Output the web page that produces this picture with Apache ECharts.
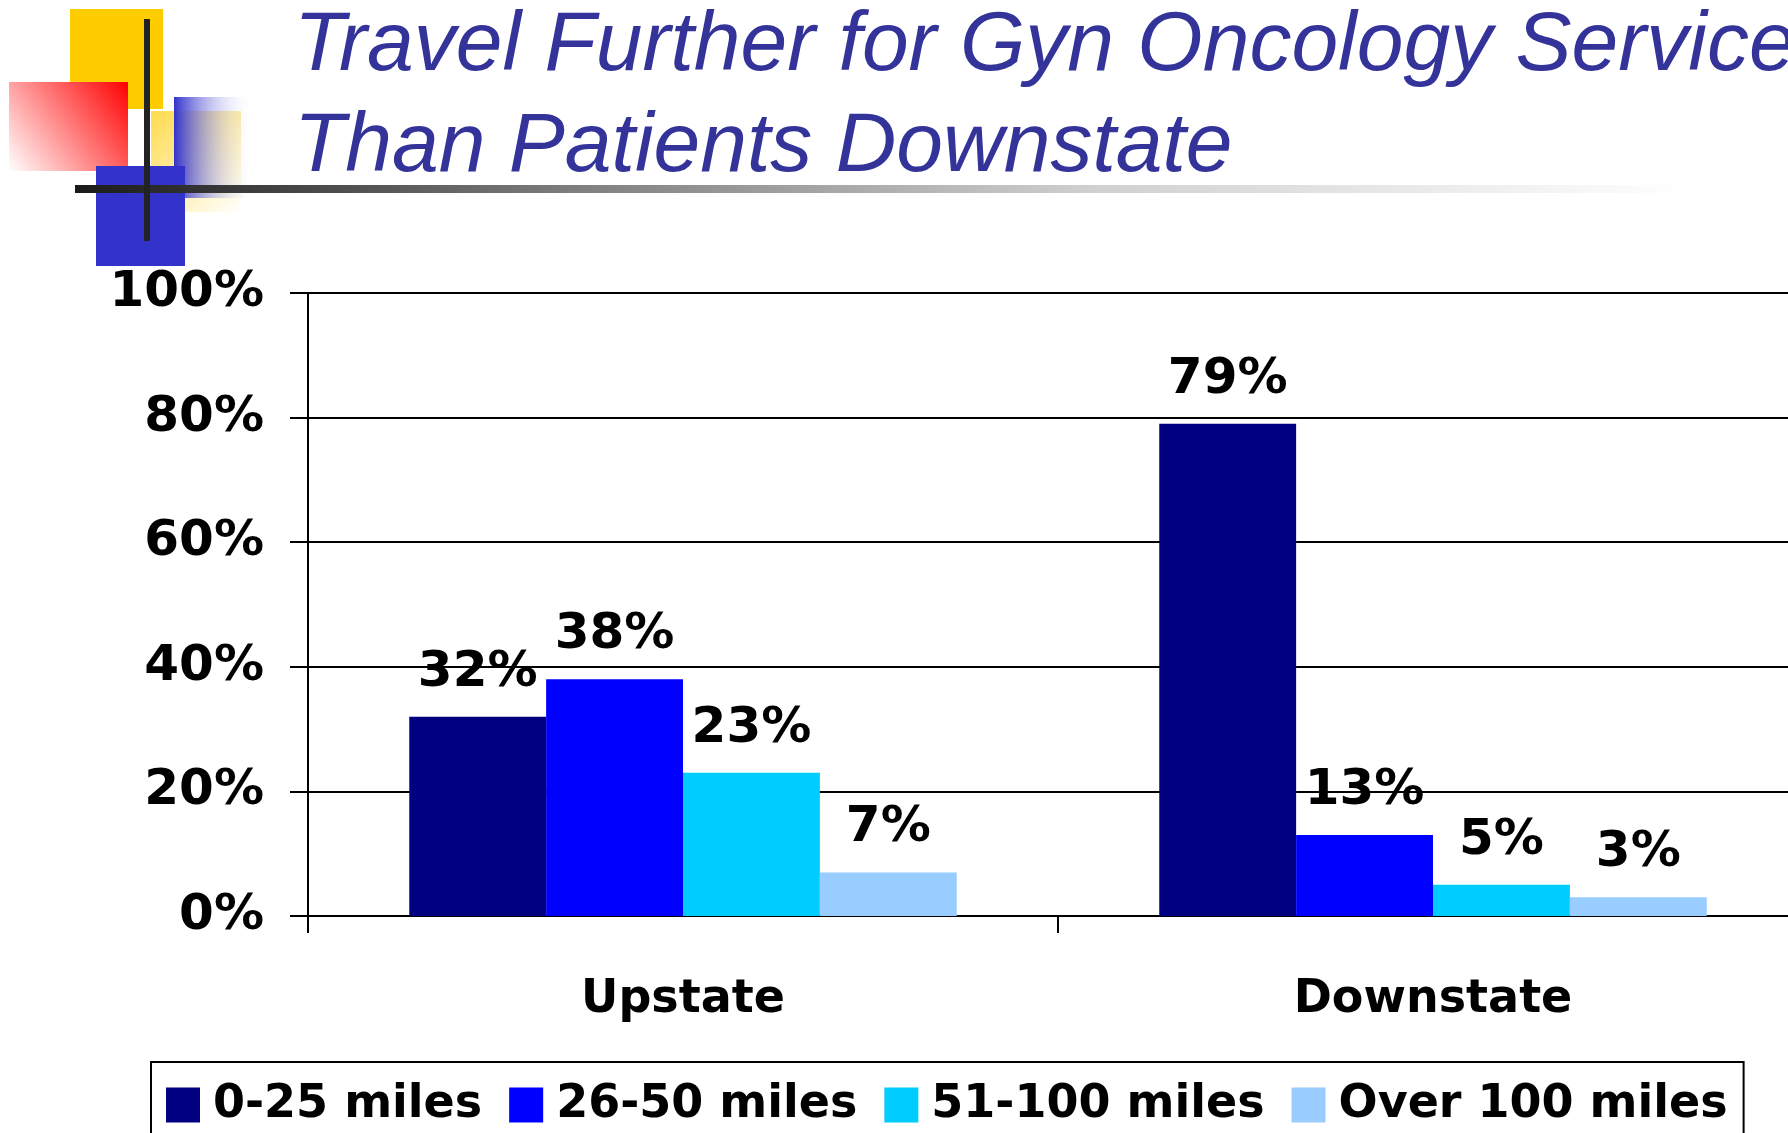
<!DOCTYPE html>
<html>
<head>
<meta charset="utf-8">
<script src="https://cdn.jsdelivr.net/npm/echarts@6/dist/echarts.min.js"></script>
<style>
html,body{margin:0;padding:0;background:#fff;overflow:hidden;width:1788px;height:1133px;}
#chart{width:1830px;height:1133px;}
</style>
</head>
<body>
<div id="chart"></div>
<script>
const titleLine1 = 'Travel Further for Gyn Oncology Services';
const titleLine2 = 'Than Patients Downstate';
const categories = ['Upstate', 'Downstate'];
const seriesNames = ['0-25 miles', '26-50 miles', '51-100 miles', 'Over 100 miles'];
const miles0to25 = [32, 79];
const miles26to50 = [38, 13];
const miles51to100 = [23, 5];
const milesOver100 = [7, 3];
const yTicks = [0, 20, 40, 60, 80, 100];
const colors = ['#000080', '#0000FF', '#00CCFF', '#99CCFF'];

const seriesData = [miles0to25, miles26to50, miles51to100, milesOver100];
const labelFont = 'DejaVu Sans';

const chart = echarts.init(document.getElementById('chart'), null, {renderer: 'canvas'});

const option = {
  animation: false,
  backgroundColor: '#ffffff',
  title: [
    {text: titleLine1, left: 289, top: 0,
     textStyle: {fontFamily: 'Liberation Sans', fontStyle: 'italic', fontWeight: 'normal', fontSize: 84, color: '#333399'}},
    {text: titleLine2, left: 289, top: 101,
     textStyle: {fontFamily: 'Liberation Sans', fontStyle: 'italic', fontWeight: 'normal', fontSize: 84, color: '#333399'}}
  ],
  graphic: [
    {type: 'rect', z: 1, shape: {x: 70, y: 9, width: 93, height: 100}, style: {fill: '#FFCC00'}},
    {type: 'rect', z: 2, shape: {x: 151, y: 111, width: 90, height: 101},
     style: {fill: new echarts.graphic.LinearGradient(0, 0, 1, 1, [{offset: 0, color: 'rgba(255,204,0,0.7)'}, {offset: 1, color: 'rgba(255,204,0,0)'}])}},
    {type: 'rect', z: 3, shape: {x: 9, y: 82, width: 119, height: 89},
     style: {fill: new echarts.graphic.LinearGradient(1, 0, 0, 1, [{offset: 0, color: 'rgba(255,0,0,1)'}, {offset: 1, color: 'rgba(255,255,255,1)'}])}},
    {type: 'rect', z: 4, shape: {x: 174, y: 97, width: 80, height: 101},
     style: {fill: new echarts.graphic.LinearGradient(0, 0, 1, 0, [{offset: 0, color: 'rgba(51,51,204,1)'}, {offset: 1, color: 'rgba(255,255,255,0)'}])}},
    {type: 'rect', z: 5, shape: {x: 96, y: 166, width: 89, height: 100}, style: {fill: '#3333CC'}},
    {type: 'rect', z: 6, shape: {x: 75, y: 185, width: 1700, height: 8},
     style: {fill: new echarts.graphic.LinearGradient(0, 0, 1, 0, [{offset: 0, color: '#1a1a1a'}, {offset: 0.3, color: '#808080'}, {offset: 0.6, color: '#d0d0d0'}, {offset: 0.95, color: '#ffffff'}])}},
    {type: 'rect', z: 7, shape: {x: 144, y: 19, width: 6, height: 222}, style: {fill: '#222222'}}
  ],
  legend: {
    data: seriesNames,
    left: 151, top: 1062,
    orient: 'horizontal',
    borderColor: '#000', borderWidth: 2,
    padding: [20, 16, 40, 15],
    itemWidth: 34, itemHeight: 35, itemGap: 27,
    icon: 'rect',
    textStyle: {fontFamily: labelFont, fontWeight: 'bold', fontSize: 46, color: '#000', padding: [0, 0, 0, 8]}
  },
  grid: {left: 308, top: 293, width: 1500, height: 623, containLabel: false},
  xAxis: {
    type: 'category',
    data: categories,
    axisLine: {show: true, lineStyle: {color: '#000', width: 2}},
    axisTick: {show: true, length: 17, lineStyle: {color: '#000', width: 2}},
    axisLabel: {fontFamily: labelFont, fontWeight: 'bold', fontSize: 46, color: '#000', margin: 61}
  },
  yAxis: {
    type: 'value',
    min: yTicks[0], max: yTicks[yTicks.length - 1], interval: 20,
    axisLine: {show: true, lineStyle: {color: '#000', width: 2}},
    axisTick: {show: true, length: 18, lineStyle: {color: '#000', width: 2}},
    splitLine: {show: true, lineStyle: {color: '#000', width: 2}},
    axisLabel: {fontFamily: labelFont, fontWeight: 'bold', fontSize: 50, color: '#000', margin: 44, formatter: '{value}%'}
  },
  series: seriesNames.map((name, i) => ({
    name: name,
    type: 'bar',
    data: seriesData[i],
    barGap: '0%',
    barCategoryGap: '27%',
    itemStyle: {color: colors[i]},
    label: {show: true, position: 'top', distance: 19, formatter: '{c}%',
            fontFamily: labelFont, fontWeight: 'bold', fontSize: 50, color: '#000'}
  }))
};
chart.setOption(option);
</script>
</body>
</html>
